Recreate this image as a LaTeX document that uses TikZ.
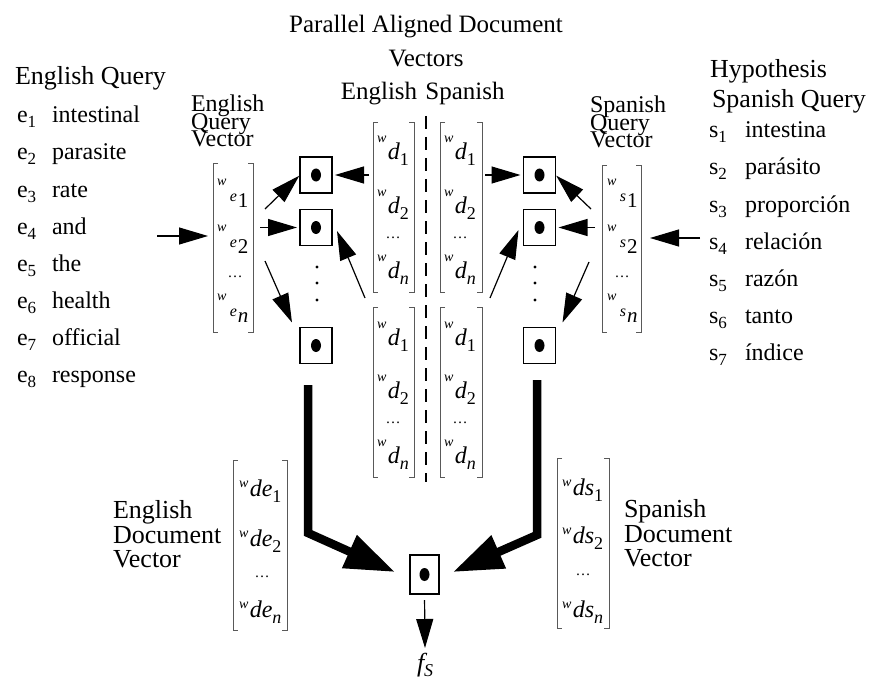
\documentclass[tikz,border=0pt]{standalone}
\usepackage{fontspec}
\setmainfont{Liberation Serif}
\usetikzlibrary{arrows.meta,calc}
\newcommand{\fsz}[1]{\fontsize{#1}{#1}\selectfont}
\newcommand{\wdent}[2]{\raisebox{17pt}{\fsz{14}\itshape w}\kern1.5pt{\fsz{24}\itshape #1}\raisebox{-6pt}{\fsz{18}#2}}
\newcommand{\wqent}[2]{\raisebox{16pt}{\fsz{14}\itshape w}\kern3.5pt{\fsz{16}\itshape #1}\kern1pt\raisebox{-6pt}{\fsz{21}#2}}
\newcommand{\wvent}[2]{\raisebox{9pt}{\fsz{14}\itshape w}\kern1.5pt{\fsz{24}\itshape #1}\raisebox{-6pt}{\fsz{18}#2}}
\newcommand{\mbrk}[1]{%
  \draw[brk] ([xshift=5pt]#1.north west) -- (#1.north west) -- (#1.south west) -- ([xshift=5pt]#1.south west);
  \draw[brk] ([xshift=-5pt]#1.north east) -- (#1.north east) -- (#1.south east) -- ([xshift=-5pt]#1.south east);}
\begin{document}
\begin{tikzpicture}[x=1pt,y=-1pt,
  every node/.style={inner sep=0pt,outer sep=0pt},
  txt/.style={anchor=base west,font=\fsz{24}},
  big/.style={anchor=base west,font=\fsz{26}},
  ttl/.style={anchor=base,font=\fsz{25}},
  ent/.style={anchor=base west},
  dts/.style={anchor=center,font=\fsz{15}},
  dotbox/.style={draw,line width=1.2pt,minimum width=32pt,minimum height=36pt,
    path picture={\fill (path picture bounding box.center) ellipse [x radius=5pt,y radius=6.5pt];}},
  arr/.style={line width=1.2pt,-{Triangle[length=29pt,width=17pt]}},
  bigarr/.style={line width=8.5pt,line join=miter,-{Triangle[length=50pt,width=34pt]}},
  brk/.style={line width=0.9pt,black!65}]
\useasboundingbox (0,0) rectangle (869,679);

% titles
\node[ttl] (t1) at (426,33) {Parallel Aligned Document};
\node[ttl] (t2) at (426,67) {Vectors};
\node[ttl] (t3) at (379,100) {English};
\node[ttl] (t4) at (465,100) {Spanish};

% English query list
\node[big] (eqt) at (15,85) {English Query};
\foreach \i/\w in {1/intestinal,2/parasite,3/rate,4/and,5/the,6/health,7/official,8/response}{
  \node[txt] (e\i) at (17,{123+37*(\i-1)}) {e\raisebox{-5pt}{\fsz{17}\i}};
  \node[txt] (ew\i) at (52,{123+37*(\i-1)}) {\w};
}
% Spanish list
\node[big] (hyp) at (710,78) {Hypothesis};
\node[big] (sqt) at (712,108) {Spanish Query};
\foreach \i/\w in {1/intestina,2/parásito,3/proporción,4/relación,5/razón,6/tanto,7/índice}{
  \node[txt] (s\i) at (709,{138+37*(\i-1)}) {s\raisebox{-5pt}{\fsz{17}\i}};
  \node[txt] (sw\i) at (745,{138+37*(\i-1)}) {\w};
}

% query vector labels
\node[txt] (eql1) at (191,112) {English};
\node[txt] (eql2) at (191,129.5) {Query};
\node[txt] (eql3) at (191,147) {Vector};
\node[txt] (sql1) at (590,113) {Spanish};
\node[txt] (sql2) at (590,130.5) {Query};
\node[txt] (sql3) at (590,148) {Vector};

% doc vector labels
\node[big] (edl1) at (113,518) {English};
\node[big] (edl2) at (113,543) {Document};
\node[big] (edl3) at (113,567) {Vector};
\node[big] (sdl1) at (624,517) {Spanish};
\node[big] (sdl2) at (624,542) {Document};
\node[big] (sdl3) at (624,566) {Vector};

% matrices
\node[minimum width=40pt,minimum height=169pt] (eqv) at (233,247.5) {};
\node[minimum width=39pt,minimum height=167pt] (sqv) at (621.5,248.5) {};
\node[minimum width=41pt,minimum height=170pt] (edt) at (393.5,207) {};
\node[minimum width=42pt,minimum height=170pt] (est) at (461,207) {};
\node[minimum width=41pt,minimum height=170pt] (edb) at (393.5,392) {};
\node[minimum width=42pt,minimum height=170pt] (esb) at (461,392) {};
\node[minimum width=54pt,minimum height=170pt] (edv) at (260,545) {};
\node[minimum width=52pt,minimum height=170pt] (sdv) at (583,543) {};
\mbrk{eqv}\mbrk{sqv}\mbrk{edt}\mbrk{est}\mbrk{edb}\mbrk{esb}\mbrk{edv}\mbrk{sdv}

% entries: query vectors
\node[ent] (eqv1) at (217,201) {\wqent{e}{1}};
\node[ent] (eqv2) at (217,247) {\wqent{e}{2}};
\node[dts] (eqv3) at (235,277) {\ldots};
\node[ent] (eqv4) at (217,316) {\wqent{e}{\itshape n}};
\node[ent] (sqv1) at (607,201) {\wqent{s}{1}};
\node[ent] (sqv2) at (607,247) {\wqent{s}{2}};
\node[dts] (sqv3) at (622,277) {\ldots};
\node[ent] (sqv4) at (607,316) {\wqent{s}{\itshape n}};
% entries: document vectors
\foreach \nm/\x/\y in {edt/377/0,est/444/0,edb/377/185,esb/444/185}{
  \node[ent] (\nm1) at (\x,160+\y) {\wdent{d}{1}};
  \node[ent] (\nm2) at (\x,213+\y) {\wdent{d}{2}};
  \node[dts] (\nm3) at (\x+16,238+\y) {\ldots};
  \node[ent] (\nm4) at (\x,278+\y) {\wdent{d}{\itshape n}};
}
\node[ent] (edv1) at (239,496) {\wvent{de}{1}};
\node[ent] (edv2) at (239,546) {\wvent{de}{2}};
\node[dts] (edv3) at (262,577) {\ldots};
\node[ent] (edv4) at (239,617) {\wvent{de}{\itshape n}};
\node[ent] (sdv1) at (562,495) {\wvent{ds}{1}};
\node[ent] (sdv2) at (562,543) {\wvent{ds}{2}};
\node[dts] (sdv3) at (583,575) {\ldots};
\node[ent] (sdv4) at (562,617) {\wvent{ds}{\itshape n}};

% dashed separator
\coordinate (dtop) at (426,116);
\coordinate (dbot) at (426,482);
\draw[line width=1.5pt,dash pattern=on 13pt off 8pt] (dtop) -- (dbot);

% dot boxes
\node[dotbox] (b1) at (316,175) {};
\node[dotbox] (b2) at (316,227.5) {};
\node[dotbox] (b3) at (316,345.5) {};
\node[dotbox] (c1) at (539.5,175) {};
\node[dotbox] (c2) at (539.5,227.5) {};
\node[dotbox] (c3) at (539.5,345.5) {};
\node[dotbox,minimum width=29pt,minimum height=39pt] (bf) at (424.5,574.5) {};
\foreach \yy in {267,283,300}{
  \fill (317,\yy) circle [radius=1.6pt];
  \fill (535,\yy) circle [radius=1.6pt];
}

% thin arrows
\coordinate (ein) at (157,236);
\draw[arr,shorten >=5pt] (ein) -- (eqv.west |- ein);
\coordinate (sin) at (700,238);
\draw[arr,shorten >=9pt] (sin) -- (sqv.east |- sin);
\coordinate (a2) at (265,209);
\draw[arr,shorten >=1pt] (a2) -- (b1.west);
\coordinate (a3) at (260,227.5);
\draw[arr,shorten >=3pt] (a3) -- (b2.west);
\coordinate (a4) at (265,261);
\draw[arr] (a4) -- ($(b3.north west)+(-8,-5)$);
\draw[arr,shorten <=4pt,shorten >=3pt] (edt.west |- b1.east) -- (b1.east);
\draw[arr] ($(edb.north west)+(-8,-9)$) -- ($(b2.east)+(5,3.5)$);
\draw[arr,shorten <=3pt,shorten >=3pt] (est.east |- c1.west) -- (c1.west);
\draw[arr] ($(esb.north east)+(8,-9)$) -- ($(c2.west)+(-5,2.5)$);
\coordinate (a9) at (591,209);
\draw[arr,shorten >=1pt] (a9) -- (c1.east);
\coordinate (a10) at (595,227.5);
\draw[arr,shorten >=3pt] (a10) -- (c2.east);
\coordinate (a11) at (589,262);
\draw[arr] (a11) -- ($(c3.north east)+(7,-5)$);

% thick arrows
\coordinate (te0) at (308,385);
\coordinate (te1) at (308,533);
\draw[bigarr] (te0) -- (te1) -- ($(bf.west)+(-15,-2.5)$);
\coordinate (ts0) at (537,380);
\coordinate (ts1) at (537,535);
\draw[bigarr] (ts0) -- (ts1) -- ($(bf.east)+(14,-2.5)$);

% output
\coordinate (fstop) at (425,648);
\draw[arr,shorten <=6pt] (bf.south) -- (fstop);
\node[ent] (fs) at (417,671) {\fsz{26}\itshape f\raisebox{-5pt}{\fsz{18}\itshape S}};
\end{tikzpicture}
\end{document}
